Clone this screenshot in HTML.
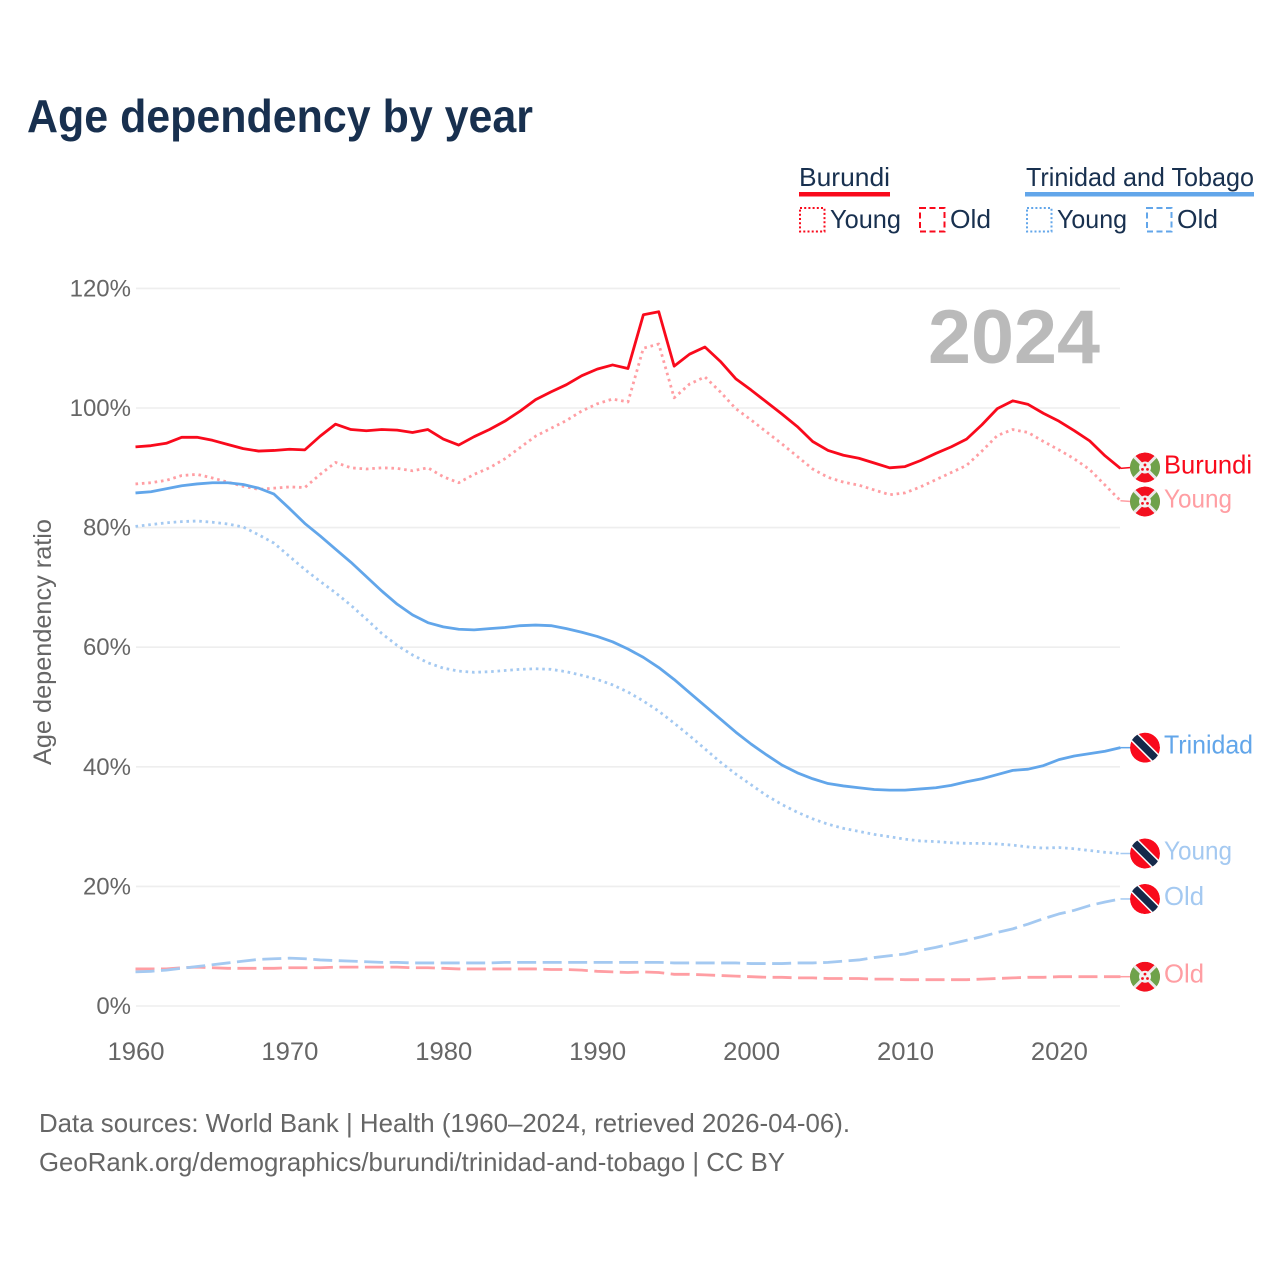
<!DOCTYPE html>
<html lang="en">
<head>
<meta charset="utf-8">
<title>Age dependency by year</title>
<style>
html,body{margin:0;padding:0;background:#fff;}
svg{display:block;font-family:"Liberation Sans",sans-serif;}
</style>
</head>
<body>
<svg id="chart" xmlns="http://www.w3.org/2000/svg" width="1280" height="1280" viewBox="0 0 1280 1280">
  <defs>
    <clipPath id="flag-clip"><circle cx="0" cy="0" r="15"/></clipPath>
  </defs>
  <rect width="1280" height="1280" fill="#fff"/>
  <text x="27" y="132" font-size="46" font-weight="700" fill="#18304f" textLength="506" lengthAdjust="spacingAndGlyphs">Age dependency by year</text>

  <g font-size="26" fill="#18304f">
    <text x="799" y="186" textLength="91" lengthAdjust="spacingAndGlyphs">Burundi</text>
    <rect x="799" y="192" width="91" height="4.5" fill="#f90a1c"/>
    <rect x="800" y="208" width="24.5" height="23.5" fill="none" stroke="#f90a1c" stroke-width="2" stroke-dasharray="2 2.2"/>
    <text x="830" y="228" textLength="71" lengthAdjust="spacingAndGlyphs">Young</text>
    <rect x="920" y="208" width="24.5" height="23.5" fill="none" stroke="#f90a1c" stroke-width="2" stroke-dasharray="6 3.5"/>
    <text x="950" y="228" textLength="41" lengthAdjust="spacingAndGlyphs">Old</text>
    <text x="1026" y="186" textLength="228" lengthAdjust="spacingAndGlyphs">Trinidad and Tobago</text>
    <rect x="1025" y="192" width="229" height="4.5" fill="#62a6ea"/>
    <rect x="1027" y="208" width="24.5" height="23.5" fill="none" stroke="#62a6ea" stroke-width="2" stroke-dasharray="2 2.2"/>
    <text x="1057" y="228" textLength="70" lengthAdjust="spacingAndGlyphs">Young</text>
    <rect x="1147" y="208" width="24.5" height="23.5" fill="none" stroke="#62a6ea" stroke-width="2" stroke-dasharray="6 3.5"/>
    <text x="1177" y="228" textLength="41" lengthAdjust="spacingAndGlyphs">Old</text>
  </g>

  <g id="grid"></g>
  <g id="y-ticks" font-size="24" fill="#666" text-anchor="end"></g>
  <g id="x-ticks" font-size="25" fill="#666" text-anchor="middle"></g>
  <text transform="translate(51,642) rotate(-90)" text-anchor="middle" font-size="25" fill="#666" textLength="246" lengthAdjust="spacingAndGlyphs">Age dependency ratio</text>

  <text x="928" y="363" font-size="76" font-weight="700" fill="#bababa" textLength="172" lengthAdjust="spacingAndGlyphs">2024</text>

  <g id="series"></g>
  <g id="end-labels"></g>

  <g font-size="26" fill="#666">
    <text x="39" y="1132" textLength="811" lengthAdjust="spacingAndGlyphs">Data sources: World Bank | Health (1960–2024, retrieved 2026-04-06).</text>
    <text x="39" y="1171" textLength="746" lengthAdjust="spacingAndGlyphs">GeoRank.org/demographics/burundi/trinidad-and-tobago | CC BY</text>
  </g>
</svg>
<script>
const years = [1960,1961,1962,1963,1964,1965,1966,1967,1968,1969,1970,1971,1972,1973,1974,1975,1976,1977,1978,1979,1980,1981,1982,1983,1984,1985,1986,1987,1988,1989,1990,1991,1992,1993,1994,1995,1996,1997,1998,1999,2000,2001,2002,2003,2004,2005,2006,2007,2008,2009,2010,2011,2012,2013,2014,2015,2016,2017,2018,2019,2020,2021,2022,2023,2024];
const burundiTotal = [93.5,93.7,94.1,95.1,95.1,94.6,93.9,93.2,92.8,92.9,93.1,93.0,95.3,97.3,96.4,96.2,96.4,96.3,95.9,96.4,94.8,93.8,95.2,96.4,97.8,99.5,101.4,102.7,103.9,105.4,106.5,107.2,106.6,115.6,116.1,107.0,109.0,110.2,107.8,104.9,103.0,101.0,99.0,96.9,94.4,92.9,92.1,91.6,90.8,90.0,90.2,91.2,92.4,93.5,94.8,97.2,99.9,101.2,100.6,99.1,97.8,96.2,94.5,92.0,89.9];
const burundiYoung = [87.3,87.5,87.9,88.7,88.9,88.3,87.6,86.9,86.4,86.6,86.8,86.7,88.9,90.9,90.0,89.8,90.0,89.9,89.5,90.0,88.5,87.5,88.9,90.0,91.5,93.4,95.3,96.6,97.9,99.5,100.7,101.5,101.0,110.0,110.7,101.7,104.0,105.2,102.7,99.9,98.0,96.0,94.0,91.9,89.8,88.4,87.6,87.1,86.3,85.5,85.8,86.8,88.0,89.2,90.4,92.8,95.4,96.4,95.9,94.4,93.0,91.5,89.7,87.1,84.5];
const burundiOld = [6.2,6.2,6.2,6.4,6.5,6.4,6.3,6.3,6.3,6.3,6.4,6.4,6.4,6.5,6.5,6.5,6.5,6.5,6.4,6.4,6.3,6.2,6.2,6.2,6.2,6.2,6.2,6.1,6.1,6.0,5.8,5.7,5.6,5.7,5.6,5.3,5.3,5.2,5.1,5.0,4.9,4.8,4.8,4.7,4.7,4.6,4.6,4.6,4.5,4.5,4.4,4.4,4.4,4.4,4.4,4.5,4.6,4.7,4.8,4.8,4.9,4.9,4.9,4.9,4.9];
const trinidadTotal = [85.8,86.0,86.5,87.0,87.3,87.5,87.5,87.2,86.6,85.6,83.2,80.7,78.6,76.4,74.2,71.8,69.4,67.2,65.4,64.1,63.4,63.0,62.9,63.1,63.3,63.6,63.7,63.6,63.1,62.5,61.8,60.9,59.7,58.3,56.6,54.6,52.4,50.2,48.0,45.8,43.8,42.0,40.3,39.0,38.0,37.2,36.8,36.5,36.2,36.1,36.1,36.3,36.5,36.9,37.5,38.0,38.7,39.4,39.6,40.2,41.2,41.8,42.2,42.6,43.2];
const trinidadYoung = [80.2,80.5,80.8,81.0,81.1,80.9,80.6,80.1,78.8,77.4,75.2,73.0,71.0,69.1,67.0,64.7,62.3,60.3,58.7,57.4,56.5,56.0,55.8,55.9,56.1,56.3,56.4,56.3,55.9,55.3,54.6,53.7,52.5,51.0,49.3,47.3,45.2,43.0,40.8,38.8,37.0,35.2,33.7,32.4,31.3,30.4,29.7,29.2,28.7,28.3,27.9,27.6,27.5,27.3,27.2,27.2,27.1,26.9,26.6,26.4,26.5,26.3,26.0,25.7,25.5];
const trinidadOld = [5.7,5.8,6.0,6.3,6.6,6.9,7.2,7.5,7.8,7.9,8.0,7.9,7.7,7.6,7.5,7.4,7.3,7.3,7.2,7.2,7.2,7.2,7.2,7.2,7.3,7.3,7.3,7.3,7.3,7.3,7.3,7.3,7.3,7.3,7.3,7.2,7.2,7.2,7.2,7.2,7.1,7.1,7.1,7.2,7.2,7.3,7.5,7.7,8.1,8.4,8.7,9.3,9.8,10.4,11.0,11.6,12.3,12.9,13.7,14.6,15.4,16.0,16.8,17.4,17.9];
const yTickValues = [0,20,40,60,80,100,120];
const xTickValues = [1960,1970,1980,1990,2000,2010,2020];

const SVGNS = 'http://www.w3.org/2000/svg';
function xScale(year){ return 135.5 + (year - 1960) * 15.39; }
function yScale(pct){ return 1006 - pct * 5.98; }
function make(tag, parent, attrs){
  const el = document.createElementNS(SVGNS, tag);
  for (const k in attrs) el.setAttribute(k, attrs[k]);
  parent.appendChild(el);
  return el;
}

const gridGroup = document.getElementById('grid');
const yGroup = document.getElementById('y-ticks');
yTickValues.forEach(function(v){
  const line = make('line', gridGroup, {x1:136, x2:1120, y1:yScale(v), y2:yScale(v), stroke:'#eeeeee', 'stroke-width':1.6});
  
  
  const t = make('text', yGroup, {x:131, y:yScale(v)+8});
  
  
  t.textContent = v + '%';
});
const xGroup = document.getElementById('x-ticks');
xTickValues.forEach(function(v){
  const t = make('text', xGroup, {x:xScale(v)+0.5, y:1060, textLength:57, lengthAdjust:'spacingAndGlyphs'});
  
  
  t.textContent = v;
});

const RED = '#f90a1c', BLUE = '#62a6ea', RED_L = '#ff9ea3', BLUE_L = '#a4c9f1';
const DOT = '2.6 3.8', DASH = '19 6.5';
const seriesList = [
  {id:'burundi-old', values:burundiOld, color:RED_L, dash:DASH, label:'Old', width:40, flag:'burundi'},
  {id:'trinidad-old', values:trinidadOld, color:BLUE_L, dash:DASH, label:'Old', width:40, flag:'trinidad'},
  {id:'trinidad-young', values:trinidadYoung, color:BLUE_L, dash:DOT, label:'Young', width:68, flag:'trinidad'},
  {id:'burundi-young', values:burundiYoung, color:RED_L, dash:DOT, label:'Young', width:68, flag:'burundi'},
  {id:'trinidad-total', values:trinidadTotal, color:BLUE, dash:null, label:'Trinidad', width:89, flag:'trinidad'},
  {id:'burundi-total', values:burundiTotal, color:RED, dash:null, label:'Burundi', width:88, flag:'burundi'}
];

// Resolve end-label overlaps: keep adjacent labels at least 34px apart.
const ordered = seriesList.slice().sort(function(a,b){ return a.values[a.values.length-1] < b.values[b.values.length-1] ? 1 : -1; });
ordered.forEach(function(s){ s.endY = yScale(s.values[s.values.length-1]); });
for (let i = 1; i < ordered.length; i++){
  const gap = ordered[i].endY - ordered[i-1].endY;
  if (gap < 34){
    const d = (34 - gap) / 2;
    ordered[i-1].endY -= d;
    ordered[i].endY += d;
  }
}

function drawFlag(parent, kind, cx, cy, name){
  const g = make('g', parent, {transform:'translate(' + cx + ',' + cy + ')', 'clip-path':'url(#flag-clip)'});
  
  
  if (kind === 'burundi'){
    make('circle', g, {r:15, fill:'#f3101f'});
    make('path', g, {d:'M0 0L-16 -15V15Z', fill:'#6fa24a'});
    make('path', g, {d:'M0 0L16 -15V15Z', fill:'#6fa24a'});
    make('path', g, {d:'M-13 -13L13 13M13 -13L-13 13', stroke:'#e9e9e9', 'stroke-width':3, fill:'none'});
    make('circle', g, {r:6, fill:'#f2f2f2'});
    make('circle', g, {cx:0, cy:-2.6, r:1.4, fill:'#f3101f'});
    make('circle', g, {cx:-2.5, cy:1.8, r:1.4, fill:'#f3101f'});
    make('circle', g, {cx:2.5, cy:1.8, r:1.4, fill:'#f3101f'});
  } else {
    make('circle', g, {r:15, fill:'#f90a1c'});
    make('line', g, {x1:-16, y1:-16, x2:16, y2:16, stroke:'#fff', 'stroke-width':10.5});
    make('line', g, {x1:-16, y1:-16, x2:16, y2:16, stroke:'#15294a', 'stroke-width':7.5});
  }
}

const seriesGroup = document.getElementById('series');
const labelGroup = document.getElementById('end-labels');
seriesList.forEach(function(s){
  const d = s.values.map(function(v,i){ return (i ? 'L' : 'M') + xScale(years[i]).toFixed(2) + ' ' + yScale(v).toFixed(2); }).join('');
  const attrs = {d:d, fill:'none', stroke:s.color, 'stroke-width':2.8, 'stroke-linejoin':'round'};
  if (s.dash) attrs['stroke-dasharray'] = s.dash;
  const path = make('path', seriesGroup, attrs);
  
  

  const lastX = xScale(years[years.length-1]);
  const lastY = yScale(s.values[s.values.length-1]);
  const conn = make('path', labelGroup, {d:'M' + lastX + ' ' + lastY + 'L1131 ' + s.endY, fill:'none', stroke:s.color, 'stroke-width':1.5});
  
  

  drawFlag(labelGroup, s.flag, 1145, s.endY, 'flag-' + s.id);

  const t = make('text', labelGroup, {x:1164, y:s.endY + 6, 'font-size':26, fill:s.color, textLength:s.width, lengthAdjust:'spacingAndGlyphs'});
  
  
  t.textContent = s.label;
});
</script>
</body>
</html>
